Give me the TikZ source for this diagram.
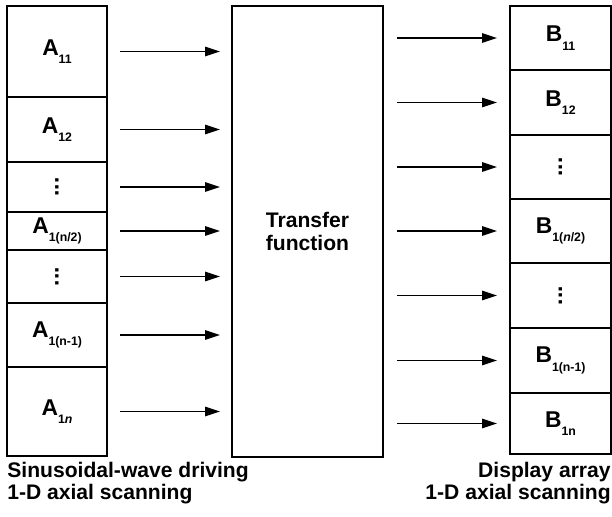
\documentclass[tikz,border=0pt]{standalone}
\usepackage{fontspec}
\setmainfont{Liberation Sans}
\usepackage{graphicx}
\usetikzlibrary{arrows.meta, positioning}

\newcommand{\cellsub}[2]{#1\raisebox{-4.8pt}{\fontsize{7}{7}\selectfont #2}}
\newcommand{\vdts}{\rotatebox{90}{...}}

\tikzset{
  cell/.style={draw, line width=1pt, inner sep=0pt, outer sep=0pt,
    font=\bfseries\fontsize{13}{13}\selectfont},
  acell/.style={cell, minimum width=2cm},
  bcell/.style={cell, minimum width=2.02cm},
  arr/.style={line width=0.9pt, -{Triangle[length=8.5pt, width=5.4pt]}},
  caption/.style={inner sep=0pt, font=\bfseries\fontsize{12}{12.5}\selectfont}
}

\begin{document}
\begin{tikzpicture}
        \useasboundingbox (0,0) rectangle (12.24,-10.34);

        % Sinusoidal-wave driving column
        \node[acell, minimum height=1.82cm, anchor=north west] (a1) at (0.14,-0.12) {\cellsub{A}{11}};
        \node[acell, minimum height=1.30cm, below=0pt of a1] (a2) {\cellsub{A}{12}};
        \node[acell, minimum height=1.00cm, below=0pt of a2] (a3) {\vdts};
        \node[acell, minimum height=0.76cm, below=0pt of a3] (a4) {\cellsub{A}{1(n/2)}};
        \node[acell, minimum height=1.06cm, below=0pt of a4] (a5) {\vdts};
        \node[acell, minimum height=1.28cm, below=0pt of a5] (a6) {\cellsub{A}{1(n-1)}};
        \node[acell, minimum height=1.78cm, below=0pt of a6] (a7) {\cellsub{A}{1\textit{n}}};

        % Transfer function
        \node[cell, minimum width=3.02cm, minimum height=9.02cm, align=center,
              font=\bfseries\fontsize{12}{13}\selectfont,
              anchor=north west] (tf) at (4.64,-0.12) {Transfer\\function};

        % Display array column
        \node[bcell, minimum height=1.28cm, anchor=north west] (b1) at (10.20,-0.12) {\cellsub{B}{11}};
        \node[bcell, minimum height=1.30cm, below=0pt of b1] (b2) {\cellsub{B}{12}};
        \node[bcell, minimum height=1.28cm, below=0pt of b2] (b3) {\vdts};
        \node[bcell, minimum height=1.28cm, below=0pt of b3] (b4) {\cellsub{B}{1(\textit{n}/2)}};
        \node[bcell, minimum height=1.30cm, below=0pt of b4] (b5) {\vdts};
        \node[bcell, minimum height=1.30cm, below=0pt of b5] (b6) {\cellsub{B}{1(n-1)}};
        \node[bcell, minimum height=1.22cm, below=0pt of b6] (b7) {\cellsub{B}{1n}};

        % Arrows
        \foreach \i in {1,...,7}
          \draw[arr] ([xshift=0.26cm]a\i.east) -- ([xshift=-0.24cm]tf.west |- a\i.east);
        \foreach \i in {1,...,7}
          \draw[arr] ([xshift=0.28cm]tf.east |- b\i.west) -- ([xshift=-0.26cm]b\i.west);

        % Captions
        \node[caption, align=left, anchor=north west] (capa) at (0.14,-9.24)
          {Sinusoidal-wave driving\\1-D axial scanning};
        \node[caption, align=right, anchor=north east] (capb) at (12.22,-9.24)
          {Display array\\1-D axial scanning};
    \end{tikzpicture}
\end{document}
